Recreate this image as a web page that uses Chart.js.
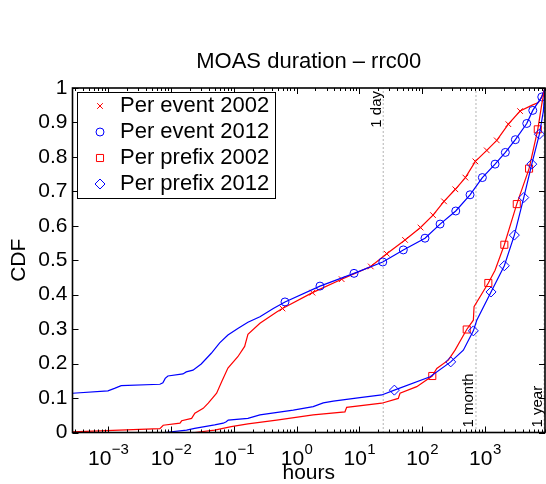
<!DOCTYPE html>
<html>
<head>
<meta charset="utf-8">
<script src="https://cdn.jsdelivr.net/npm/chart.js@4.4.1/dist/chart.umd.min.js"></script>
<style>
  body { margin: 0; background: #fff; }
  #wrap { width: 546px; height: 484px; }
</style>
</head>
<body>
<div id="wrap"><canvas id="moas" width="546" height="484"></canvas></div>
<script>
// values (hours on x, CDF on y)
const evt02Hours = [0.00027, 0.00666, 0.00752, 0.0139, 0.0148, 0.0213, 0.024, 0.0326, 0.0392, 0.0533, 0.0641, 0.0807, 0.116, 0.149, 0.168, 0.261, 0.482, 0.596, 1.79, 5.23, 8.52, 15.2, 27.3, 53.4, 94.2, 149, 223, 338, 488, 704, 1069, 1543, 2361, 3628, 5780, 7100, 7840, 9050];
const evt02Cdf = [0.002, 0.011, 0.021, 0.027, 0.034, 0.041, 0.056, 0.07, 0.085, 0.114, 0.147, 0.187, 0.22, 0.25, 0.285, 0.317, 0.35, 0.36, 0.406, 0.445, 0.462, 0.482, 0.519, 0.559, 0.595, 0.631, 0.671, 0.706, 0.74, 0.787, 0.819, 0.848, 0.895, 0.933, 0.951, 0.958, 0.97, 1.0];
const evt02Marks = [17, 18, 19, 21, 22, 23, 24, 25, 26, 27, 28, 29, 30, 31, 32, 33];

const evt12Hours = [0.00027, 0.00099, 0.00126, 0.00161, 0.00666, 0.00743, 0.00809, 0.00893, 0.0155, 0.0175, 0.0224, 0.0303, 0.0438, 0.0596, 0.0807, 0.116, 0.168, 0.261, 0.426, 0.654, 2.36, 8.22, 23.6, 50.1, 111, 193, 343, 579, 910, 1450, 2115, 3052, 4637, 5778, 8040, 9050];
const evt12Cdf = [0.114, 0.121, 0.128, 0.136, 0.140, 0.144, 0.157, 0.164, 0.170, 0.176, 0.181, 0.199, 0.230, 0.260, 0.283, 0.302, 0.320, 0.336, 0.360, 0.379, 0.425, 0.462, 0.495, 0.530, 0.564, 0.605, 0.643, 0.690, 0.740, 0.779, 0.813, 0.850, 0.897, 0.935, 0.974, 1.0];
const evt12Marks = [19, 20, 21, 22, 23, 24, 25, 26, 27, 28, 29, 30, 31, 32, 33, 34];

const pfx02Hours = [0.00027, 0.0238, 0.0496, 0.0911, 0.168, 0.482, 1.84, 5.90, 6.28, 22.7, 41.7, 44.4, 82.0, 145, 171, 261, 334, 513, 654, 671, 1133, 1450, 2037, 3214, 5046, 6950, 8040, 9050];
const pfx02Cdf = [0.0, 0.0, 0.007, 0.017, 0.025, 0.036, 0.051, 0.060, 0.073, 0.085, 0.099, 0.114, 0.133, 0.164, 0.186, 0.210, 0.239, 0.299, 0.326, 0.365, 0.434, 0.471, 0.545, 0.663, 0.766, 0.880, 0.953, 1.0];
const pfx02Marks = [13, 17, 20, 22, 23, 24, 25];

const pfx12Hours = [0.00027, 0.0079, 0.0177, 0.0238, 0.0496, 0.0679, 0.0758, 0.0816, 0.168, 0.261, 0.886, 1.84, 2.66, 3.85, 10.2, 22.7, 36.1, 134, 285, 453, 654, 741, 1251, 2037, 2941, 4155, 5575, 7370, 8530, 9050];
const pfx12Cdf = [0.0, 0.0, 0.007, 0.012, 0.022, 0.027, 0.031, 0.036, 0.041, 0.051, 0.065, 0.075, 0.086, 0.091, 0.101, 0.109, 0.123, 0.162, 0.205, 0.239, 0.295, 0.326, 0.408, 0.484, 0.573, 0.682, 0.779, 0.866, 0.933, 1.0];
const pfx12Marks = [16, 18, 20, 22, 23, 24, 25, 26, 27];

const seriesLabels = ['Per event 2002', 'Per event 2012', 'Per prefix 2002', 'Per prefix 2012'];
const refHours = [24, 720, 8760];
const refLabels = ['1 day', '1 month', '1 year'];
const xTickExps = [-3, -2, -1, 0, 1, 2, 3];
const yTicks = [0, 0.1, 0.2, 0.3, 0.4, 0.5, 0.6, 0.7, 0.8, 0.9, 1];
const yTickLabels = ['0', '0.1', '0.2', '0.3', '0.4', '0.5', '0.6', '0.7', '0.8', '0.9', '1'];
const xMin = 0.00027, xMax = 9050;
const chartTitle = 'MOAS duration \u2013 rrc00';

const FONT = "'Liberation Sans', Arial, Helvetica, sans-serif";
const RED = '#ff0000', BLUE = '#0000ff';

function toXY(xs, ys) {
  return xs.map((x, i) => ({x: x, y: ys[i]}));
}

function curve(label, xs, ys, marks, color, style, r) {
  return {
    label: label,
    data: toXY(xs, ys),
    borderColor: color,
    borderWidth: 1.2,
    pointStyle: style,
    pointRadius: ctx => marks.includes(ctx.dataIndex) ? r : 0,
    pointHoverRadius: 0,
    pointBorderColor: color,
    pointBackgroundColor: 'rgba(0,0,0,0)',
    pointBorderWidth: 1,
    tension: 0,
    fill: false
  };
}

const datasets = [
  curve(seriesLabels[0], evt02Hours, evt02Cdf, evt02Marks, RED, 'crossRot', 4),
  curve(seriesLabels[1], evt12Hours, evt12Cdf, evt12Marks, BLUE, 'circle', 4),
  curve(seriesLabels[2], pfx02Hours, pfx02Cdf, pfx02Marks, RED, 'rect', 5),
  curve(seriesLabels[3], pfx12Hours, pfx12Cdf, pfx12Marks, BLUE, 'rectRot', 5)
];
datasets.forEach((d, i) => d.order = 3 - i);

// dotted reference lines (day / month / year)
refHours.forEach(h => {
  datasets.push({
    label: '',
    data: [{x: h, y: 0}, {x: h, y: 1}],
    borderColor: '#666',
    borderWidth: 1,
    borderDash: [1, 3],
    pointRadius: 0,
    order: 10
  });
});

const matlabAxes = {
  id: 'matlabAxes',
  afterDraw(chart) {
    const ctx = chart.ctx;
    const xs = chart.scales.x, ys = chart.scales.y;
    const {left, right, top, bottom} = chart.chartArea;
    ctx.save();

    // title, centred over the axes like matlab does
    ctx.fillStyle = '#000';
    ctx.font = '22px ' + FONT;
    ctx.textAlign = 'center';
    ctx.textBaseline = 'middle';
    ctx.fillText(chartTitle, (left + right) / 2, 62);

    // reference line labels
    ctx.font = '15px ' + FONT;
    ctx.textBaseline = 'alphabetic';
    refHours.forEach((h, i) => {
      const px = xs.getPixelForValue(h) - 2.5;
      ctx.save();
      if (i === 0) {
        ctx.translate(px, top + 3);
        ctx.rotate(-Math.PI / 2);
        ctx.textAlign = 'right';
      } else {
        ctx.translate(px, bottom - 5);
        ctx.rotate(-Math.PI / 2);
        ctx.textAlign = 'left';
      }
      ctx.fillText(refLabels[i], 0, 0);
      ctx.restore();
    });

    // inward ticks on all four sides
    ctx.strokeStyle = '#000';
    ctx.lineWidth = 1;
    ctx.beginPath();
    for (let d = -4; d <= 3; d++) {
      for (let k = 1; k <= 9; k++) {
        const v = k * Math.pow(10, d);
        if (v < xMin || v > xMax) continue;
        const px = Math.round(xs.getPixelForValue(v)) + 0.5;
        const len = k === 1 ? 6 : 3;
        ctx.moveTo(px, bottom); ctx.lineTo(px, bottom - len);
        ctx.moveTo(px, top); ctx.lineTo(px, top + len);
      }
    }
    yTicks.forEach(v => {
      const py = Math.round(ys.getPixelForValue(v)) + 0.5;
      ctx.moveTo(left, py); ctx.lineTo(left + 6, py);
      ctx.moveTo(right, py); ctx.lineTo(right - 6, py);
    });
    ctx.stroke();

    ctx.lineWidth = 1.6;
    ctx.strokeRect(left, top, right - left, bottom - top);

    // x tick labels 10^n
    ctx.fillStyle = '#000';
    ctx.textAlign = 'left';
    ctx.textBaseline = 'alphabetic';
    xTickExps.forEach(e => {
      const px = xs.getPixelForValue(Math.pow(10, e));
      const sup = e < 0 ? '\u2212' + (-e) : String(e);
      ctx.font = '21px ' + FONT;
      const wb = ctx.measureText('10').width;
      ctx.font = '15px ' + FONT;
      const ws = ctx.measureText(sup).width;
      const x0 = px - (wb + ws) / 2;
      ctx.font = '21px ' + FONT;
      ctx.fillText('10', x0, 465);
      ctx.font = '15px ' + FONT;
      ctx.fillText(sup, x0 + wb + 0.5, 454);
    });

    // legend box
    const bx = 77, by = 92, bw = 198, bh = 106;
    ctx.fillStyle = '#fff';
    ctx.fillRect(bx, by, bw, bh);
    ctx.lineWidth = 1;
    ctx.strokeStyle = '#000';
    ctx.strokeRect(bx + 0.5, by + 0.5, bw, bh);
    ctx.font = '22px ' + FONT;
    ctx.textBaseline = 'middle';
    ctx.textAlign = 'left';
    for (let i = 0; i < 4; i++) {
      const ds = chart.data.datasets[i];
      const ry = by + 14 + i * 26;
      ctx.strokeStyle = ds.borderColor;
      ctx.fillStyle = 'rgba(0,0,0,0)';
      ctx.lineWidth = 1;
      const r = (ds.pointStyle === 'rect' || ds.pointStyle === 'rectRot') ? 5 : 4;
      if (Chart.helpers && Chart.helpers.drawPoint) {
        Chart.helpers.drawPoint(ctx, {pointStyle: ds.pointStyle, radius: r, borderWidth: 1, rotation: 0}, bx + 23, ry);
      }
      ctx.fillStyle = '#000';
      ctx.fillText(ds.label, bx + 43, ry);
    }
    ctx.restore();
  }
};

new Chart(document.getElementById('moas'), {
  type: 'line',
  data: {datasets: datasets},
  options: {
    responsive: false,
    devicePixelRatio: 1,
    animation: false,
    layout: {padding: {top: 88, right: 1, bottom: 0, left: 0}},
    plugins: {
      legend: {display: false},
      tooltip: {enabled: false},
      title: {display: false}
    },
    scales: {
      x: {
        type: 'logarithmic',
        min: xMin,
        max: xMax,
        grid: {display: false, drawTicks: false},
        border: {display: false},
        ticks: {display: false},
        title: {display: true, text: 'hours', color: '#000', font: {family: FONT, size: 21, lineHeight: 1}, padding: 0},
        afterFit: s => { s.height = 51.5; }
      },
      y: {
        min: 0,
        max: 1,
        afterBuildTicks: s => { s.ticks = yTicks.map(v => ({value: v})); },
        grid: {display: false, drawTicks: false},
        border: {display: false},
        ticks: {
          color: '#000',
          padding: 5,
          font: {family: FONT, size: 21},
          callback: (v, i) => yTickLabels[i]
        },
        title: {display: true, text: 'CDF', color: '#000', font: {family: FONT, size: 21}, padding: {top: 7, bottom: 0}},
        afterFit: s => { s.width = 72.5; }
      }
    }
  },
  plugins: [matlabAxes]
});
</script>
</body>
</html>
